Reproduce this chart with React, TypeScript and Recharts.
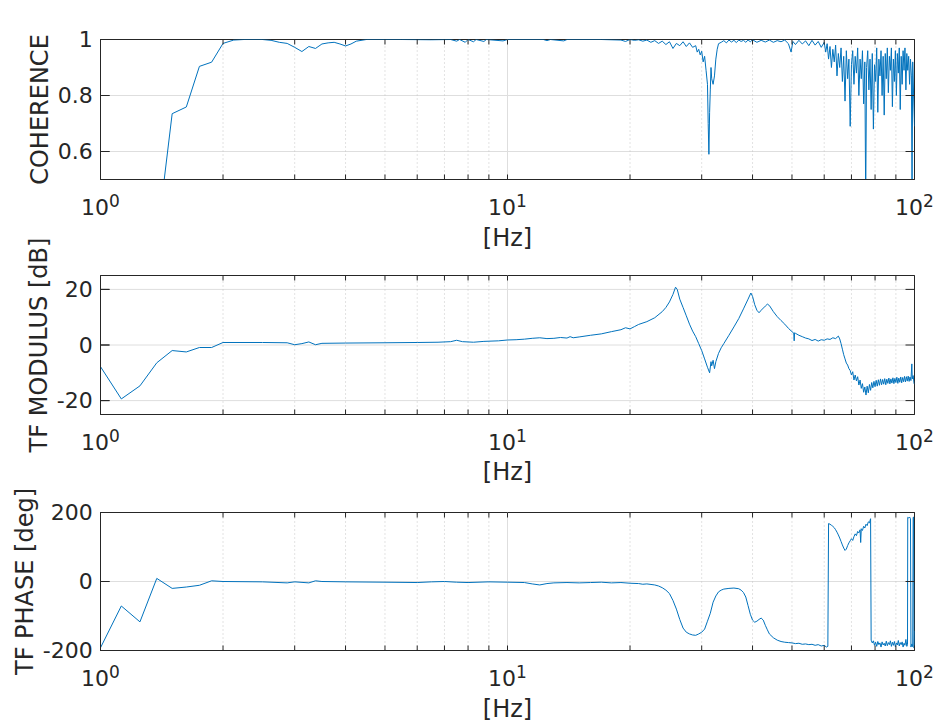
import React from 'react';
import { LineChart, Line, XAxis, YAxis, CartesianGrid, ReferenceLine, ReferenceArea } from 'recharts';

const FONT = 'DejaVu Sans';
const TEXT = '#262626';
const AXIS = '#262626';
const LINE = '#0072BD';

const titleText = 'AS IS, with EXTRA WEIGHT, roomba V vs soil V';
const xLabelText = '[Hz]';
const yLabels = ['COHERENCE', 'TF MODULUS [dB]', 'TF PHASE [deg]'];

const xMajorTicks = [1, 10, 100];
const xMinorTicks = [2, 3, 4, 5, 6, 7, 8, 9, 20, 30, 40, 50, 60, 70, 80, 90];
const xAllTicks = [1, 2, 3, 4, 5, 6, 7, 8, 9, 10, 20, 30, 40, 50, 60, 70, 80, 90, 100];

const cohTicks = [0.6, 0.8, 1];
const modTicks = [-20, 0, 20];
const phaseTicks = [-200, 0, 200];

// [frequency Hz, coherence]
const coherencePoints: [number, number][] = [
  [1.0, 0.2], [1.125, 0.15], [1.25, 0.25], [1.375, 0.28], [1.5, 0.735], [1.625, 0.759], [1.75, 0.904],
  [1.875, 0.919], [2.0, 0.986], [2.125, 0.998], [2.25, 1.0], [2.5, 1.0], [2.625, 0.997], [2.75, 0.99],
  [2.875, 0.986], [3.0, 0.972], [3.125, 0.957], [3.25, 0.975], [3.375, 0.968], [3.5, 0.984], [3.625, 0.988],
  [3.75, 0.99], [3.875, 0.984], [4.0, 0.977], [4.125, 0.984], [4.25, 0.994], [4.5, 1.0], [5.5, 1.0],
  [6.5, 0.999], [7.25, 1.0], [7.5, 0.994], [7.625, 1.0], [7.875, 0.99], [8.0, 1.0], [8.25, 0.992],
  [8.375, 1.0], [8.75, 0.993], [8.875, 1.0], [9.75, 0.995], [10, 1.0], [12.25, 1.0], [12.5, 0.996],
  [12.75, 1.0], [13.75, 0.995], [14, 1.0], [17, 1.0], [19.0, 0.998], [19.5, 0.993], [20, 1.0],
  [20.5, 0.997], [21, 0.999], [21.5, 0.994], [22, 0.998], [22.5, 0.99], [23, 0.996], [23.5, 0.986],
  [24, 0.994], [24.5, 0.982], [25, 0.992], [25.5, 0.968], [26, 0.986], [26.5, 0.978], [27, 0.992],
  [27.5, 0.975], [28, 0.988], [28.5, 0.972], [29, 0.978], [29.25, 0.955], [29.5, 0.965], [29.75, 0.945],
  [30, 0.958], [30.25, 0.92], [30.5, 0.94], [30.75, 0.89], [31, 0.84], [31.125, 0.7], [31.25, 0.59],
  [31.375, 0.74], [31.5, 0.82], [31.625, 0.9], [31.75, 0.86], [32, 0.84], [32.25, 0.87], [32.5, 0.93],
  [32.75, 0.965], [33, 0.985], [33.5, 0.99], [34, 0.996], [34.5, 0.988], [35, 0.998], [35.5, 0.991],
  [36, 0.997], [36.5, 0.989], [37, 0.998], [37.5, 0.993], [38, 0.997], [38.5, 0.99], [39, 0.998],
  [39.5, 0.992], [40, 0.999], [41, 0.99], [42, 0.997], [43, 0.991], [44, 0.998], [45, 0.99],
  [46, 0.996], [47, 0.992], [48, 0.998], [49, 0.985], [49.75, 0.955], [50.25, 0.993], [51, 0.982],
  [52, 0.997], [53, 0.984], [54, 0.995], [55, 0.978], [56, 0.997], [57, 0.98], [58, 0.993], [59, 0.972],
  [60, 0.99], [60.5, 0.955], [61, 0.985], [61.5, 0.93], [62, 0.975], [62.5, 0.9], [63, 0.965],
  [63.5, 0.92], [64, 0.98], [64.5, 0.87], [65, 0.95], [65.5, 0.9], [66, 0.97], [66.5, 0.85], [67, 0.94],
  [67.5, 0.78], [68, 0.96], [68.5, 0.86], [69, 0.93], [69.5, 0.69], [70, 0.91], [70.5, 0.96], [71, 0.84],
  [71.5, 0.94], [72, 0.88], [72.5, 0.97], [73, 0.8], [73.5, 0.93], [74, 0.86], [74.5, 0.96], [75, 0.77],
  [75.5, 0.92], [75.875, 0.42], [76.25, 0.9], [76.75, 0.96], [77.25, 0.82], [77.75, 0.93], [78.25, 0.75],
  [78.75, 0.95], [79.25, 0.68], [79.75, 0.91], [80.25, 0.85], [80.75, 0.97], [81.25, 0.74], [81.75, 0.93],
  [82.25, 0.87], [82.75, 0.96], [83.25, 0.8], [83.75, 0.94], [84.25, 0.73], [84.75, 0.95], [85.25, 0.86],
  [85.75, 0.97], [86.25, 0.81], [86.75, 0.94], [87.25, 0.89], [87.75, 0.97], [88.25, 0.76], [88.75, 0.93],
  [89.25, 0.85], [89.75, 0.96], [90.25, 0.8], [90.75, 0.95], [91.25, 0.88], [91.75, 0.97], [92.25, 0.75],
  [92.75, 0.94], [93.25, 0.84], [93.75, 0.96], [94.25, 0.89], [94.75, 0.97], [95.25, 0.82], [95.75, 0.95],
  [96.25, 0.89], [96.75, 0.94], [97.25, 0.84], [97.75, 0.93], [98.25, 0.87], [98.625, 0.45], [99.0, 0.92],
  [99.5, 0.8], [99.875, 0.72], [100, 0.69],
];

// [frequency Hz, modulus dB]
const modulusPoints: [number, number][] = [
  [1.0, -7.8], [1.125, -19.4], [1.25, -14.7], [1.375, -6.4], [1.5, -2.0], [1.625, -2.5], [1.75, -0.9],
  [1.875, -0.9], [2.0, 0.9], [2.5, 0.9], [2.875, 0.8], [3.0, 0.1], [3.125, 0.5], [3.25, 1.1], [3.375, 0.1],
  [3.5, 0.6], [4.0, 0.7], [5.0, 0.8], [6.0, 0.9], [6.75, 1.0], [7.25, 1.2], [7.5, 1.7], [7.75, 1.2],
  [8.25, 1.0], [8.75, 1.3], [9.5, 1.5], [10, 1.8], [10.5, 1.9], [11, 2.1], [11.5, 2.4], [12, 2.6],
  [12.5, 2.3], [13, 2.4], [13.5, 2.7], [14, 2.5], [14.25, 3.0], [14.5, 2.6], [15, 2.9], [16, 3.5],
  [17, 4.0], [18, 4.8], [19, 5.5], [19.5, 6.2], [20, 5.8], [20.5, 6.6], [21, 7.4], [22, 8.4], [23, 9.8],
  [24, 12.0], [24.5, 13.5], [25, 15.5], [25.5, 18.2], [25.875, 20.8], [26.125, 20.0], [26.5, 16.5],
  [27, 13.5], [27.5, 10.5], [28, 7.5], [28.5, 5.0], [29, 3.0], [29.5, 0.5], [30, -2.0], [30.5, -5.0],
  [31, -8.0], [31.375, -10.0], [31.625, -6.0], [31.75, -7.5], [32, -5.5], [32.25, -8.5], [32.5, -6.0],
  [33, -3.0], [33.5, -1.0], [34, 0.5], [35, 3.5], [36, 6.5], [37, 9.5], [38, 13.0], [39, 16.5],
  [39.625, 18.7], [40, 17.5], [40.5, 14.5], [41, 12.5], [41.5, 11.6], [42, 12.5], [43, 14.0], [43.5, 14.7],
  [44, 14.2], [45, 12.0], [46, 10.2], [47, 8.8], [48, 7.5], [49, 6.0], [50, 4.8], [50.5, 4.3],
  [50.625, 1.5], [50.75, 4.4], [51, 4.2], [52, 3.5], [53, 3.0], [54, 2.5], [55, 2.2], [56, 1.6], [57, 2.0],
  [58, 1.4], [59, 1.9], [60, 1.7], [61, 2.2], [62, 2.0], [63, 2.6], [64, 2.3], [65, 3.2], [65.5, 2.2],
  [66, 0.5], [66.5, -1.5], [67, -3.5], [67.5, -5.0], [68, -6.5], [68.5, -7.2], [69, -8.5], [69.5, -9.2],
  [70, -10.8], [70.5, -9.6], [71, -12.6], [71.5, -10.8], [72, -12.9], [72.5, -11.4], [73, -14.4],
  [73.5, -12.6], [74, -15.6], [74.5, -13.9], [75, -17.0], [75.5, -15.1], [76, -18.0], [76.5, -14.8],
  [77, -17.2], [77.5, -14.2], [78, -16.3], [78.5, -13.5], [79, -15.4], [79.5, -13.1], [80, -15.0],
  [80.5, -12.7], [81, -14.8], [81.5, -12.5], [82, -14.5], [82.5, -12.2], [83, -14.3], [83.5, -12.4],
  [84, -14.1], [84.5, -12.1], [85, -14.3], [85.5, -12.3], [86, -13.8], [86.5, -11.9], [87, -14.0],
  [87.5, -12.2], [88, -13.7], [88.5, -11.8], [89, -13.9], [89.5, -12.0], [90, -13.5], [90.5, -11.6],
  [91, -13.8], [91.5, -11.9], [92, -13.4], [92.5, -11.5], [93, -13.6], [93.5, -11.7], [94, -13.2],
  [94.5, -11.3], [95, -13.3], [95.5, -11.4], [96, -13.0], [96.5, -11.2], [97, -13.1], [97.5, -11.5],
  [98, -12.8], [98.5, -6.8], [98.75, -12.2], [99.25, -11.0], [99.75, -13.8], [100, -14.1],
];

// [frequency Hz, phase deg]
const phasePoints: [number, number][] = [
  [1.0, -192], [1.125, -71], [1.25, -117], [1.375, 9], [1.5, -20], [1.625, -16], [1.75, -11], [1.875, 2],
  [2.0, 0], [2.5, -1], [2.875, -4], [3.0, -1], [3.25, -4], [3.375, 2], [3.5, 0], [4, -1], [5, -2], [6, -3],
  [6.5, -1], [7, 0], [7.5, -2], [8, -3], [9, -1], [10, -2], [11, -3], [11.5, -7], [12, -10], [12.5, -6],
  [13, -4], [14, -3], [15, -4], [16, -3], [17, -2], [18, -4], [19, -3], [20, -5], [21, -6], [21.5, -8],
  [22, -7], [23, -10], [23.5, -13], [24, -18], [24.5, -25], [25, -35], [25.5, -55], [26, -80], [26.5, -110],
  [27, -135], [27.5, -147], [28, -152], [28.5, -155], [29, -156], [29.5, -152], [30, -147], [30.5, -138],
  [31, -115], [31.5, -92], [32, -60], [32.5, -42], [33, -30], [33.5, -25], [34, -22], [35, -20], [36, -19],
  [37, -21], [37.5, -25], [38, -32], [38.5, -45], [39, -70], [39.5, -95], [40, -112], [40.5, -118],
  [41, -115], [41.5, -110], [42, -106], [42.5, -112], [43, -127], [43.5, -140], [44, -152], [45, -163],
  [46, -170], [47, -174], [48, -176], [49, -177], [50, -178], [51, -180], [52, -179], [53, -182],
  [54, -181], [55, -183], [56, -182], [57, -185], [58, -183], [59, -187], [60, -185], [60.75, -190],
  [61.25, -188], [61.5, 168], [62, 166], [62.5, 163], [63, 160], [63.5, 156], [64, 150], [64.5, 143],
  [65, 135], [65.5, 126], [66, 116], [66.5, 106], [67, 97], [67.5, 90], [68, 94], [68.5, 104], [69, 112],
  [69.5, 118], [70, 124], [70.5, 119], [71, 130], [71.5, 138], [72, 133], [72.5, 145], [73, 141],
  [73.5, 150], [73.75, 113], [74, 153], [74.5, 148], [75, 160], [75.5, 155], [76, 166], [76.5, 162],
  [77, 173], [77.5, 170], [78, 182], [78.25, -170], [78.75, -178], [79.25, -172], [79.75, -185],
  [80.25, -176], [80.75, -188], [81.25, -174], [81.75, -183], [82.25, -178], [82.75, -190], [83.25, -175],
  [83.75, -184], [84.25, -179], [84.75, -187], [85.25, -173], [85.75, -186], [86.25, -177], [86.75, -183],
  [87.25, -172], [87.75, -188], [88.25, -176], [88.75, -185], [89.25, -174], [89.75, -189], [90.25, -178],
  [90.75, -184], [91.25, -171], [91.75, -187], [92.25, -177], [92.75, -183], [93.25, -175], [93.75, -190],
  [94.25, -179], [94.75, -185], [95.25, -168], [95.75, -188], [96.125, -182], [96.25, 186], [96.75, 184],
  [97.25, 187], [97.75, 182], [98.0, -190], [98.5, -181], [99.0, -189], [99.25, 186], [99.5, 187],
  [99.75, -193], [100, -143],
];

const toData = (pts: [number, number][]) => pts.map(([f, v]) => ({ f, v }));

const PowTick = (props: any) => {
  const { x, y, payload } = props;
  const v = payload && payload.value;
  if (!xMajorTicks.includes(v)) return <g />;
  const e = Math.round(Math.log10(v));
  return (
    <text x={x} y={y + 35} textAnchor="middle" fill={TEXT} fontSize={22} fontFamily={FONT}>
      <tspan>10</tspan>
      <tspan dy={-8} fontSize={17}>{e}</tspan>
    </text>
  );
};

const CHART_W = 940;
const MARGIN_LEFT = 20.5;
const Y_AXIS_W = 80;
const MARGIN_RIGHT = 25.5;
const PLOT_W = CHART_W - MARGIN_LEFT - Y_AXIS_W - MARGIN_RIGHT;
const X_TICK_LEN = 5;
const Y_TICK_LEN = 9;
// the y tick length expressed as a ratio on the log frequency axis (2 decades across the plot width)
const yTickRatio = Math.pow(10, (2 * Y_TICK_LEN) / PLOT_W);

const panels = [
  {
    key: 'coh', data: toData(coherencePoints), yDomain: [0.5, 1], yTicks: cohTicks, yLabel: yLabels[0],
    top: 0, height: 255, marginTop: 39.5, xAxisHeight: 75.5, labelOffset: 18.5, hzOffset: 9, title: true,
  },
  {
    key: 'mod', data: toData(modulusPoints), yDomain: [-25, 25], yTicks: modTicks, yLabel: yLabels[1],
    top: 255, height: 235, marginTop: 20.5, xAxisHeight: 75.5, labelOffset: 17.5, hzOffset: 10, title: false,
  },
  {
    key: 'phase', data: toData(phasePoints), yDomain: [-200, 200], yTicks: phaseTicks, yLabel: yLabels[2],
    top: 490, height: 238, marginTop: 22.5, xAxisHeight: 77.5, labelOffset: 3.5, hzOffset: 11, title: false,
  },
];

const axisLineStyle = { stroke: AXIS, strokeWidth: 1 };
const tickLineStyle = { stroke: AXIS, strokeWidth: 1 };

const Panel = ({ p }: { p: any }) => {
  const [yMin, yMax] = p.yDomain;
  const plotH = p.height - p.marginTop - p.xAxisHeight;
  const topTickLen = ((yMax - yMin) * X_TICK_LEN) / plotH;
  return (
    <LineChart
      width={CHART_W} height={p.height} data={p.data}
      margin={{ top: p.marginTop, right: MARGIN_RIGHT, bottom: 0, left: MARGIN_LEFT }}
    >
      <CartesianGrid vertical={false} stroke="#dedede" />
      {xMinorTicks.map((v) => (
        <ReferenceLine key={'g' + v} x={v} stroke="#c6c6c6" strokeDasharray="1 3" />
      ))}
      <ReferenceLine x={10} stroke="#dedede" />
      <Line type="linear" dataKey="v" stroke={LINE} strokeWidth={1} dot={false} isAnimationActive={false} />
      <ReferenceArea
        x1={1} x2={100} y1={yMin} y2={yMax} fill="none" fillOpacity={0}
        stroke={AXIS} strokeWidth={1} ifOverflow="visible"
      />
      {xAllTicks.map((v) => (
        <ReferenceLine
          key={'tt' + v} ifOverflow="visible" stroke={AXIS} strokeWidth={1}
          segment={[{ x: v, y: yMax }, { x: v, y: yMax - topTickLen }]}
        />
      ))}
      {p.yTicks.map((v: number) => (
        <ReferenceLine
          key={'yl' + v} ifOverflow="visible" stroke={AXIS} strokeWidth={1}
          segment={[{ x: 1, y: v }, { x: yTickRatio, y: v }]}
        />
      ))}
      {p.yTicks.map((v: number) => (
        <ReferenceLine
          key={'yr' + v} ifOverflow="visible" stroke={AXIS} strokeWidth={1}
          segment={[{ x: 100 / yTickRatio, y: v }, { x: 100, y: v }]}
        />
      ))}
      <XAxis
        dataKey="f" type="number" scale="log" domain={[1, 100]} allowDataOverflow ticks={xAllTicks} interval={0}
        tickSize={-X_TICK_LEN} tickMargin={5} height={p.xAxisHeight} stroke={AXIS} axisLine={axisLineStyle}
        tickLine={tickLineStyle} tick={<PowTick />}
        label={{ value: xLabelText, position: 'insideBottom', offset: p.hzOffset, fill: TEXT,
          style: { fontSize: 24, fontFamily: FONT, fill: TEXT } }}
      />
      <XAxis
        xAxisId="top" orientation="top" type="number" scale="log" domain={[1, 100]} allowDataOverflow
        ticks={xAllTicks} interval={0} tickSize={-X_TICK_LEN} height={0} stroke={AXIS} axisLine={axisLineStyle}
        tickLine={tickLineStyle} tick={false}
        label={p.title ? { value: titleText, position: 'top', offset: 8.5, fill: '#000',
          style: { fontSize: 24, fontWeight: 'bold', fontFamily: FONT, fill: '#000' } } : undefined}
      />
      <YAxis
        type="number" domain={p.yDomain} allowDataOverflow ticks={p.yTicks} interval={0} tickSize={-Y_TICK_LEN}
        tickMargin={16.7} width={Y_AXIS_W} stroke={AXIS} axisLine={axisLineStyle} tickLine={tickLineStyle}
        tick={{ fill: TEXT, fontSize: 22, fontFamily: FONT }}
        label={{ value: p.yLabel, angle: -90, position: 'insideLeft', offset: p.labelOffset, fill: TEXT,
          style: { textAnchor: 'middle', fontSize: 24, fontFamily: FONT, fill: TEXT } }}
      />
    </LineChart>
  );
};

export default function App() {
  return (
    <div style={{ position: 'absolute', left: 0, top: 0, width: 940, height: 728, background: '#fff' }}>
      <style>{'svg { overflow: visible; }'}</style>
      {panels.map((p) => (
        <div key={p.key} style={{ position: 'absolute', left: 0, top: p.top, width: 940, height: p.height }}>
          <Panel p={p} />
        </div>
      ))}
    </div>
  );
}
